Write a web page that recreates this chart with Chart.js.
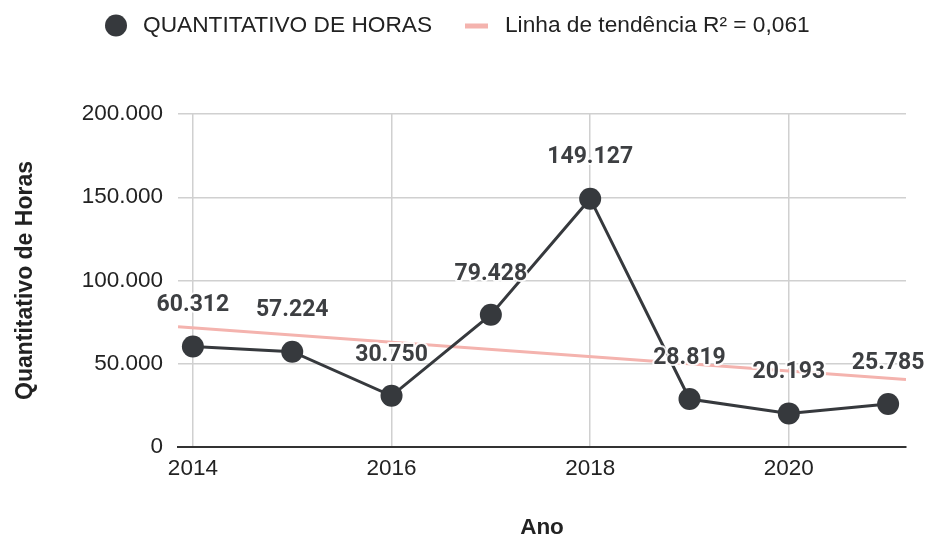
<!DOCTYPE html>
<html>
<head>
<meta charset="utf-8">
<script src="https://cdn.jsdelivr.net/npm/chart.js@4"></script>
<style>
html,body{margin:0;padding:0;background:#fff;}
#wrap{width:926px;height:539px;position:relative;}
</style>
</head>
<body>
<div id="wrap"><canvas id="c" width="926" height="539"></canvas></div>
<script>
// ---- data ----
const years = [2014, 2015, 2016, 2017, 2018, 2019, 2020, 2021];
const hours = [60312, 57224, 30750, 79428, 149127, 28819, 20193, 25785];
const xTickLabels = [2014, 2016, 2018, 2020];
const yTickLabels = [0, 50000, 100000, 150000, 200000];
const seriesName = 'QUANTITATIVO DE HORAS';
const trendName = 'Linha de tendência R² = 0,061';
const xAxisTitle = 'Ano';
const yAxisTitle = 'Quantitativo de Horas';

const X_MIN = 2013.85, X_MAX = 2021.18;

// least-squares trend line from the data
const n = years.length;
const mx = years.reduce((a,b)=>a+b,0)/n;
const my = hours.reduce((a,b)=>a+b,0)/n;
let sxy = 0, sxx = 0;
for (let i=0;i<n;i++){ sxy += (years[i]-mx)*(hours[i]-my); sxx += (years[i]-mx)**2; }
const slope = sxy/sxx, icpt = my - slope*mx;
const trendPts = [X_MIN, X_MAX].map(x => ({x, y: icpt + slope*x}));

const fmt = v => String(Math.round(v)).replace(/\B(?=(\d{3})+(?!\d))/g, '.');

const DARK = '#36393d';
const PINK = '#f4b3ae';
const AXF = '"Liberation Sans", Arial, sans-serif';

const labelPlugin = {
  id: 'valLabels',
  afterDatasetsDraw(chart) {
    const ctx = chart.ctx;
    const meta = chart.getDatasetMeta(0);
    ctx.save();
    ctx.font = 'bold 23px Roboto, sans-serif';
    ctx.textAlign = 'center';
    ctx.textBaseline = 'middle';
    ctx.lineJoin = 'round';
    meta.data.forEach((pt, i) => {
      const t = fmt(hours[i]);
      const y = pt.y - 41;
      ctx.strokeStyle = 'rgba(255,255,255,0.9)';
      ctx.lineWidth = 4;
      ctx.strokeText(t, pt.x, y);
      ctx.fillStyle = '#3d3f42';
      ctx.fillText(t, pt.x, y);
    });
    ctx.restore();
  }
};

const legendPlugin = {
  id: 'customLegend',
  afterDraw(chart) {
    const ctx = chart.ctx;
    ctx.save();
    ctx.fillStyle = DARK;
    ctx.beginPath();
    ctx.arc(116, 25.5, 11, 0, Math.PI*2);
    ctx.fill();
    ctx.font = '22.7px ' + AXF;
    ctx.fillStyle = '#222';
    ctx.textBaseline = 'middle';
    ctx.textAlign = 'left';
    ctx.fillText(seriesName, 143, 26);
    ctx.fillStyle = PINK;
    ctx.fillRect(465, 23.5, 23, 5);
    ctx.fillStyle = '#222';
    ctx.fillText(trendName, 505, 26);
    ctx.restore();
  }
};

new Chart(document.getElementById('c'), {
  type: 'scatter',
  data: {
    datasets: [
      {
        label: seriesName,
        data: years.map((y,i)=>({x:y, y:hours[i]})),
        showLine: true,
        borderColor: DARK,
        backgroundColor: DARK,
        borderWidth: 3,
        pointRadius: 11,
        pointHoverRadius: 11,
        pointBackgroundColor: DARK,
        pointBorderWidth: 0,
        order: 0
      },
      {
        label: trendName,
        data: trendPts,
        showLine: true,
        borderColor: PINK,
        borderWidth: 3,
        pointRadius: 0,
        order: 1
      }
    ]
  },
  options: {
    responsive: false,
    animation: false,
    events: [],
    layout: { padding: { top: 114, right: 20, left: 0, bottom: 0 } },
    plugins: { legend: { display: false }, tooltip: { enabled: false } },
    scales: {
      x: {
        type: 'linear',
        min: X_MIN, max: X_MAX,
        afterBuildTicks: s => { s.ticks = xTickLabels.map(v => ({value: v})); },
        afterFit: s => { s.height = 92; },
        ticks: { callback: v => String(v), font: { family: AXF, size: 22.5 }, color: '#222', padding: 8, maxRotation: 0 },
        grid: { color: '#d0d0d0', lineWidth: 1.5, drawTicks: false },
        border: { color: '#333', width: 2 },
        title: { display: true, text: xAxisTitle, font: { family: AXF, size: 22.5, weight: 'bold', lineHeight: 1.0 }, color: '#222', padding: { top: 0, bottom: 0 } }
      },
      y: {
        min: 0, max: 200000,
        afterBuildTicks: s => { s.ticks = yTickLabels.map(v => ({value: v})); },
        afterFit: s => { s.width = 178; },
        ticks: { callback: v => fmt(v), font: { family: AXF, size: 22.5 }, color: '#222', padding: 15 },
        grid: { color: '#d0d0d0', lineWidth: 1.5, drawTicks: false },
        border: { display: false },
        title: { display: true, text: yAxisTitle, font: { family: AXF, size: 23, weight: 'bold' }, color: '#222', padding: { top: 12, bottom: 0 } }
      }
    }
  },
  plugins: [labelPlugin, legendPlugin]
});
</script>
</body>
</html>
